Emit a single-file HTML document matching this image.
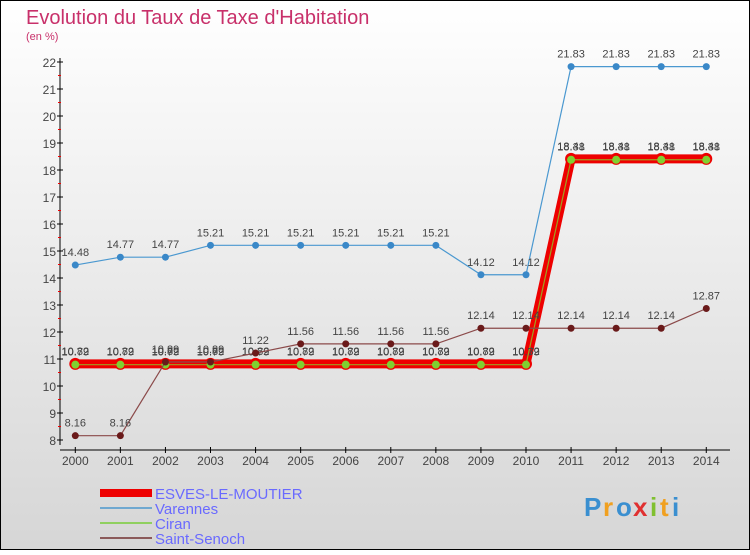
<!DOCTYPE html>
<html><head><meta charset="utf-8"><style>
body{margin:0}
#c{width:750px;height:550px;position:relative;font-family:"Liberation Sans",sans-serif}
</style></head><body>
<div id="c">
<svg id="s" width="750" height="550" xmlns="http://www.w3.org/2000/svg">
<defs><linearGradient id="bg" x1="0" y1="0" x2="0" y2="1"><stop offset="0" stop-color="#ffffff"/><stop offset="1" stop-color="#d6d6d6"/></linearGradient></defs>
<rect x="0.5" y="0.5" width="749" height="549" fill="url(#bg)" stroke="#000"/>
<text x="26" y="24" font-size="20" fill="#c8306a">Evolution du Taux de Taxe d'Habitation</text>
<text x="26" y="40" font-size="11" fill="#c8306a">(en %)</text>
<g id="axes"></g><g id="series"></g>
<g>
<rect x="100" y="489" width="52" height="8" fill="#e00"/>
<text x="155" y="499" font-size="15" fill="#6a6aff">ESVES-LE-MOUTIER</text>
<line x1="100" y1="508" x2="152" y2="508" stroke="#6fa8d0" stroke-width="2"/>
<text x="155" y="514" font-size="15" fill="#6a6aff">Varennes</text>
<line x1="100" y1="523" x2="152" y2="523" stroke="#90d060" stroke-width="2"/>
<text x="155" y="529" font-size="15" fill="#6a6aff">Ciran</text>
<line x1="100" y1="538" x2="152" y2="538" stroke="#8b5a5a" stroke-width="2"/>
<text x="155" y="544" font-size="15" fill="#6a6aff">Saint-Senoch</text>
</g>
<g font-size="26" font-weight="bold">
<text x="584" y="516" fill="#3a8fd0">P</text><text x="603" y="516" fill="#f0a020">r</text><text x="616" y="516" fill="#3a8fd0">o</text><text x="633" y="516" fill="#e03030">x</text><text x="650" y="516" fill="#80c030">i</text><text x="660" y="516" fill="#f0a020">t</text><text x="672" y="516" fill="#3a8fd0">i</text>
</g>
</svg></div>
<script>
const years=[2000,2001,2002,2003,2004,2005,2006,2007,2008,2009,2010,2011,2012,2013,2014];
const esves=[10.82,10.82,10.82,10.82,10.82,10.82,10.82,10.82,10.82,10.82,10.82,18.41,18.41,18.41,18.41];
const varennes=[14.48,14.77,14.77,15.21,15.21,15.21,15.21,15.21,15.21,14.12,14.12,21.83,21.83,21.83,21.83];
const ciran=[10.79,10.79,10.79,10.79,10.79,10.79,10.79,10.79,10.79,10.79,10.79,18.38,18.38,18.38,18.38];
const senoch=[8.16,8.16,10.89,10.89,11.22,11.56,11.56,11.56,11.56,12.14,12.14,12.14,12.14,12.14,12.87];
const yTicks=[8,9,10,11,12,13,14,15,16,17,18,19,20,21,22];
const NS="http://www.w3.org/2000/svg";
const xs=i=>75.3+i*45.07;
const ys=v=>440-(v-8)*27;
function mk(t,a,p){const e=document.createElementNS(NS,t);for(const k in a)e.setAttribute(k,a[k]);p.appendChild(e);return e;}
const ax=document.getElementById('axes'),se=document.getElementById('series');
let l=mk('line',{x1:60,y1:58,x2:60,y2:445,stroke:'#000'},ax);


yTicks.forEach(v=>{
 mk('line',{x1:57,y1:ys(v),x2:63,y2:ys(v),stroke:'#000'},ax);
 if(v<22)mk('line',{x1:58,y1:ys(v+0.5),x2:61,y2:ys(v+0.5),stroke:'#e00'},ax);
 const t=mk('text',{x:56,y:ys(v)+5,'font-size':12,fill:'#444','text-anchor':'end'},ax);t.textContent=v;
 
 
});
l=mk('line',{x1:60,y1:450,x2:730,y2:450,stroke:'#000'},ax);


years.forEach((y,i)=>{
 mk('line',{x1:xs(i),y1:447,x2:xs(i),y2:453,stroke:'#000'},ax);
 const t=mk('text',{x:xs(i),y:465,'font-size':12,fill:'#444','text-anchor':'middle'},ax);t.textContent=y;
 
 
});
function pts(d){return d.map((v,i)=>xs(i)+','+ys(v)).join(' ');}
function series(d,name,color,w,r,fill,stroke2){
 const g=mk('g',{},se);
 
 
 mk('polyline',{points:pts(d),fill:'none',stroke:color,'stroke-width':w},g);
 d.forEach((v,i)=>{
  const c=mk('circle',{cx:xs(i),cy:ys(v),r:r,fill:fill,stroke:stroke2||'none','stroke-width':stroke2?4:0},g);
  
  
  const t=mk('text',{x:xs(i),y:ys(v)-9,'font-size':11,fill:'#444','text-anchor':'middle'},g);t.textContent=v;
  
  
 });
}
series(varennes,'varennes-series','#4a98d0',1.2,3.5,'#3a88c8');
series(esves,'esves-series','#e00',9,6,'#e00');
series(ciran,'ciran-series','#a0a020',1.2,4,'#80d030');
series(senoch,'saint-senoch-series','#8b4a4a',1.2,3.5,'#6a1a1a');
</script>
</body></html>
